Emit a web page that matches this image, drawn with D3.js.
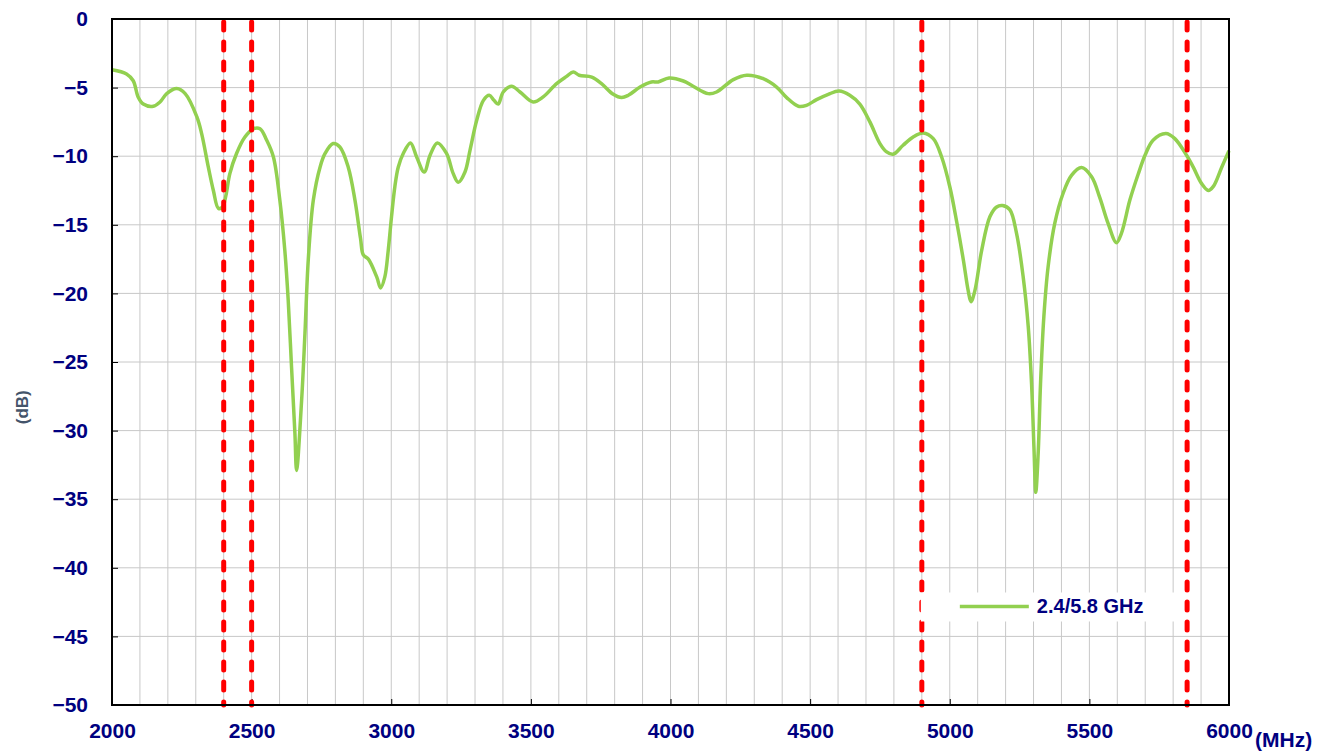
<!DOCTYPE html>
<html>
<head>
<meta charset="utf-8">
<script src="https://cdn.jsdelivr.net/npm/d3@7"></script>
<style>
  body { margin: 0; background: #fff; }
  svg { display: block; font-family: Arial, "Liberation Sans", sans-serif; }
</style>
</head>
<body>
<div id="chart"></div>
<script>
// frequency (MHz) and return loss (dB)
var freq = [2000, 2052, 2076, 2094, 2112, 2148, 2172, 2196, 2232, 2262, 2304, 2321, 2345, 2363, 2381, 2396,
  2408, 2422, 2446, 2476, 2506, 2530, 2554, 2578, 2601, 2619, 2631, 2643, 2655, 2661, 2679, 2691,
  2703, 2721, 2745, 2763, 2792, 2816, 2846, 2870, 2890, 2900, 2918, 2948, 2962, 2977, 2989, 3001,
  3013, 3025, 3043, 3069, 3091, 3118, 3139, 3165, 3198, 3222, 3240, 3264, 3282, 3306, 3330, 3351,
  3368, 3383, 3401, 3431, 3461, 3508, 3544, 3592, 3628, 3652, 3673, 3718, 3753, 3795, 3825, 3849,
  3891, 3932, 3956, 3995, 4046, 4081, 4135, 4165, 4225, 4273, 4332, 4380, 4416, 4458, 4487, 4523,
  4565, 4604, 4642, 4678, 4714, 4750, 4774, 4797, 4833, 4869, 4905, 4941, 4971, 5001, 5025, 5049,
  5066, 5076, 5090, 5114, 5144, 5168, 5189, 5215, 5239, 5263, 5281, 5293, 5302, 5308, 5317, 5325,
  5337, 5352, 5376, 5406, 5436, 5472, 5508, 5537, 5567, 5597, 5615, 5645, 5675, 5700, 5728, 5774,
  5806, 5848, 5872, 5902, 5926, 5944, 5974, 6000];
var s11 = [-3.7, -4.0, -4.5, -5.7, -6.2, -6.36, -6.05, -5.44, -5.07, -5.44, -7.14, -8.35, -10.8, -12.5, -13.8, -13.7,
  -12.85, -11.27, -9.8, -8.6, -8.0, -8.0, -8.84, -10.06, -13.2, -16.9, -20.5, -25.4, -30.2, -32.9, -27.8, -22.9,
  -17.5, -13.2, -10.8, -9.8, -9.08, -9.33, -10.8, -13.2, -16.0, -17.2, -17.5, -18.8, -19.6, -18.8, -16.9, -14.4,
  -12.2, -10.8, -9.8, -9.03, -10.06, -11.15, -9.93, -9.03, -9.8, -11.27, -11.9, -11.15, -9.57, -7.38, -5.93, -5.56,
  -5.93, -6.2, -5.32, -4.9, -5.32, -6.05, -5.68, -4.71, -4.18, -3.86, -4.1, -4.23, -4.71, -5.49, -5.73, -5.56,
  -4.96, -4.59, -4.59, -4.3, -4.52, -4.9, -5.44, -5.32, -4.42, -4.1, -4.35, -4.96, -5.73, -6.36, -6.29, -5.88,
  -5.49, -5.25, -5.56, -6.2, -7.5, -9.08, -9.69, -9.86, -9.2, -8.6, -8.31, -8.72, -10.06, -12.3, -14.8, -17.6,
  -19.8, -20.6, -19.8, -16.9, -14.4, -13.7, -13.6, -13.9, -15.6, -18.8, -22.4, -26.6, -31.5, -34.5, -31.5, -26.6,
  -21.7, -18.1, -14.9, -12.7, -11.4, -10.83, -11.5, -13.0, -14.9, -16.3, -15.6, -13.2, -11.3, -9.9, -8.84, -8.35,
  -8.72, -9.93, -10.8, -12.0, -12.5, -12.2, -10.8, -9.6];

// band edges marked with red dashed lines
var bandEdges = [2400, 2500, 4900, 5850];

var xTicks = [2000, 2500, 3000, 3500, 4000, 4500, 5000, 5500, 6000];
var yTicks = [0, -5, -10, -15, -20, -25, -30, -35, -40, -45, -50];
var seriesName = "2.4/5.8 GHz";

var margin = {top: 19, right: 100, bottom: 49, left: 112},
    width = 1329 - margin.left - margin.right,
    height = 754 - margin.top - margin.bottom;

var svg = d3.select("#chart").append("svg")
    .attr("width", 1329)
    .attr("height", 754)
    .append("g")
    .attr("transform", "translate(" + margin.left + "," + margin.top + ")");

var x = d3.scaleLinear().domain([2000, 6000]).range([0, width]);
var y = d3.scaleLinear().domain([-50, 0]).range([height, 0]);

// grid
svg.append("g")
    .selectAll("line")
    .data(d3.range(2100, 6000, 100))
    .enter().append("line")
    .attr("x1", function (d) { return x(d); })
    .attr("x2", function (d) { return x(d); })
    .attr("y1", 0)
    .attr("y2", height)
    .style("stroke", "#c8c8c8")
    .style("stroke-width", 1);

svg.append("g")
    .selectAll("line")
    .data(yTicks.slice(1, -1))
    .enter().append("line")
    .attr("x1", 0)
    .attr("x2", width)
    .attr("y1", function (d) { return y(d); })
    .attr("y2", function (d) { return y(d); })
    .style("stroke", "#c8c8c8")
    .style("stroke-width", 1);

// axes
var xAxis = svg.append("g")
    .attr("transform", "translate(0," + height + ")")
    .call(d3.axisBottom(x).tickValues(xTicks).tickSize(-6).tickPadding(18).tickFormat(d3.format("d")));

var yAxis = svg.append("g")
    .call(d3.axisLeft(y).tickValues(yTicks).tickSize(-6).tickPadding(24).tickFormat(d3.format("d")));

[xAxis, yAxis].forEach(function (a) {
  a.select(".domain").remove();
  a.selectAll(".tick line").style("stroke", "#000").style("stroke-width", 1);
  a.selectAll("text")
      .style("font-family", "Arial, 'Liberation Sans', sans-serif")
      .style("font-size", "21px")
      .style("font-weight", "bold")
      .style("fill", "#000080");
});

// the curve
var line = d3.line()
    .x(function (d, i) { return x(freq[i]); })
    .y(function (d) { return y(d); })
    .curve(d3.curveCatmullRom.alpha(0.5));

svg.append("path")
    .datum(s11)
    .attr("d", line)
    .style("fill", "none")
    .style("stroke", "#92d050")
    .style("stroke-width", 3.5)
    .style("stroke-linejoin", "round");

// band edges
svg.append("g")
    .selectAll("line")
    .data(bandEdges)
    .enter().append("line")
    .attr("x1", function (d) { return x(d); })
    .attr("x2", function (d) { return x(d); })
    .attr("y1", 3)
    .attr("y2", height)
    .style("stroke", "#ff0000")
    .style("stroke-width", 5)
    .style("stroke-dasharray", "8,12")
    .style("stroke-linecap", "round");

// plot border
svg.append("rect")
    .attr("width", width)
    .attr("height", height)
    .style("fill", "none")
    .style("stroke", "#000")
    .style("stroke-width", 2);

// legend
var legend = svg.append("g")
    .attr("transform", "translate(" + (x(4900) - 1) + "," + (y(-41.8)) + ")");

legend.append("rect")
    .attr("width", 263)
    .attr("height", 29)
    .style("fill", "#fff");

legend.append("line")
    .attr("x1", 39).attr("x2", 108)
    .attr("y1", 14).attr("y2", 14)
    .style("stroke", "#92d050")
    .style("stroke-width", 3.5);

legend.append("text")
    .attr("x", 116)
    .attr("y", 21)
    .style("font-size", "20px")
    .style("font-weight", "bold")
    .style("fill", "#000080")
    .text(seriesName);

// axis titles
svg.append("text")
    .attr("x", width + 26)
    .attr("y", height + 42)
    .style("font-size", "21px")
    .style("font-weight", "bold")
    .style("fill", "#000080")
    .text("(MHz)");

svg.append("text")
    .attr("transform", "translate(" + (28 - margin.left) + "," + y(-28.3) + ") rotate(-90)")
    .attr("text-anchor", "middle")
    .style("font-size", "17px")
    .style("font-weight", "bold")
    .style("fill", "#44546a")
    .text("(dB)");
</script>
</body>
</html>
